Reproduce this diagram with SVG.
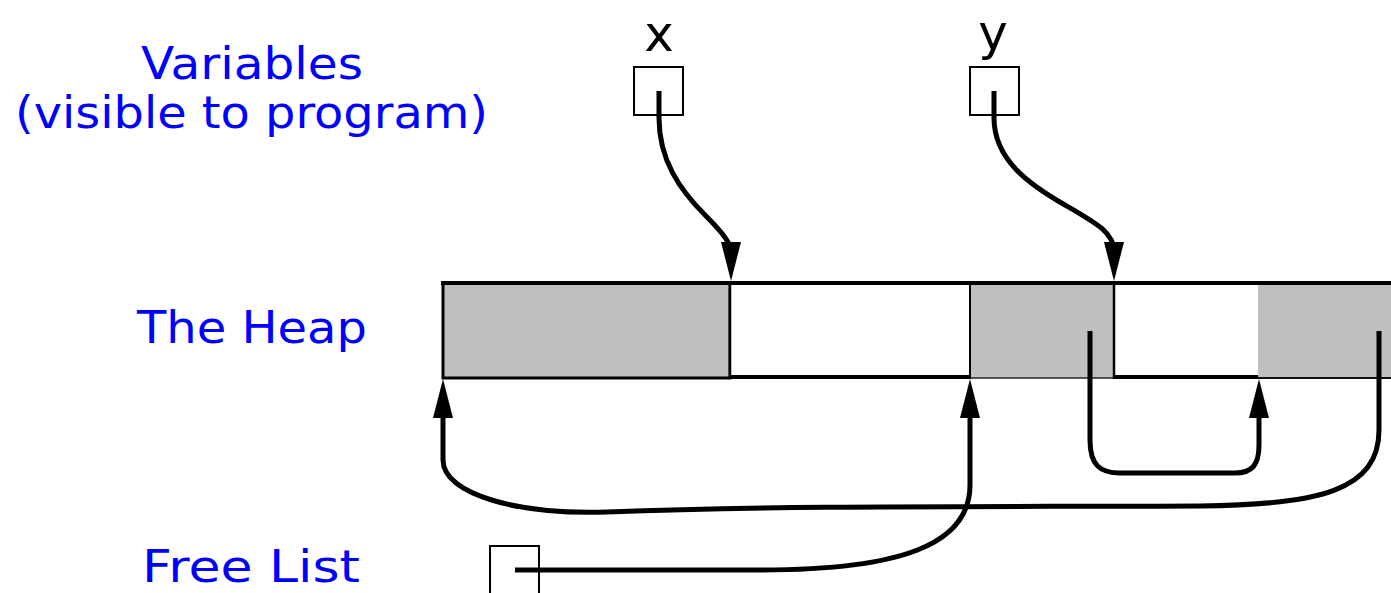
<svg xmlns="http://www.w3.org/2000/svg" width="1391" height="593" viewBox="0 0 1391 593">
<style>
.lbl{font-family:"DejaVu Sans","Liberation Sans",sans-serif;fill:#0000ff;font-size:44px}
.var{font-family:"DejaVu Sans","Liberation Sans",sans-serif;fill:#000;font-size:50px;text-anchor:middle}
.conn{fill:none;stroke:#000;stroke-width:5}
.gray{fill:#bfbfbf;stroke:#222;stroke-width:1.5}
.box{fill:#fff;stroke:#000;stroke-width:2}
</style>
<defs>
<marker id="ah" markerUnits="userSpaceOnUse" markerWidth="40" markerHeight="22" viewBox="0 0 40 22" refX="10" refY="11" orient="auto">
<path d="M0,1 L39,11 L0,21 z" fill="#000"/>
</marker>
</defs>
<g id="labels">
<text class="lbl" x="141" y="79" textLength="222" lengthAdjust="spacingAndGlyphs">Variables</text>
<text class="lbl" x="15" y="128" textLength="473" lengthAdjust="spacingAndGlyphs">(visible to program)</text>
<text class="lbl" x="137" y="343" textLength="230" lengthAdjust="spacingAndGlyphs">The Heap</text>
<text class="lbl" x="142" y="582" textLength="218" lengthAdjust="spacingAndGlyphs">Free List</text>
</g>
<g id="var-x">
<text class="var" x="659" y="51">x</text>
<rect class="box" x="634" y="67" width="49" height="48"/>
</g>
<g id="var-y">
<text class="var" x="993" y="50">y</text>
<rect class="box" x="970" y="67" width="49" height="48"/>
</g>
<g id="freelist">
<rect class="box" x="490" y="546" width="49" height="60"/>
</g>
<g id="heap">
<rect x="443" y="283" width="287" height="95" style="fill:#bfbfbf;stroke:#000;stroke-width:3"/>
<rect x="730" y="283" width="240" height="95" fill="#fff"/>
<rect class="gray" x="970" y="283" width="144" height="95"/>
<rect x="1114" y="283" width="144" height="95" fill="#fff"/>
<rect x="1258" y="283" width="140" height="95" fill="#bfbfbf"/>
<line x1="1258" y1="378" x2="1391" y2="378" stroke="#111" stroke-width="2"/>
<line x1="441" y1="283" x2="1391" y2="283" stroke="#000" stroke-width="4"/>
<line x1="730" y1="377" x2="970" y2="377" stroke="#000" stroke-width="4"/>
<line x1="1114" y1="377" x2="1258" y2="377" stroke="#000" stroke-width="4"/>
<line x1="730" y1="283" x2="730" y2="379" stroke="#000" stroke-width="2.5"/>
<line x1="970" y1="283" x2="970" y2="379" stroke="#000" stroke-width="2"/>
<line x1="1114" y1="283" x2="1114" y2="379" stroke="#000" stroke-width="2.5"/>
</g>
<g id="connectors">
<path class="conn" d="M659,91 L659,118 C659,160 680,190 705,215 C724,234 731,244 731,252" marker-end="url(#ah)"/>
<path class="conn" d="M994,91 L994,118 C994,160 1030,185 1065,205 C1098,224 1114,233 1114,252" marker-end="url(#ah)"/>
<path class="conn" d="M1379,331 L1379,430 C1379,490 1320,505 1200,506 C1000,507 800,505 607,512 C520,515 443,495 443,460 L443,408" marker-end="url(#ah)"/>
<path class="conn" d="M515,570 L760,570 C900,570 970,545 970,485 L970,408" marker-end="url(#ah)"/>
<path class="conn" d="M1090,331 L1090,440 C1090,465 1100,473 1120,473 L1235,473 C1252,473 1259,465 1259,445 L1259,408" marker-end="url(#ah)"/>
</g>
</svg>
